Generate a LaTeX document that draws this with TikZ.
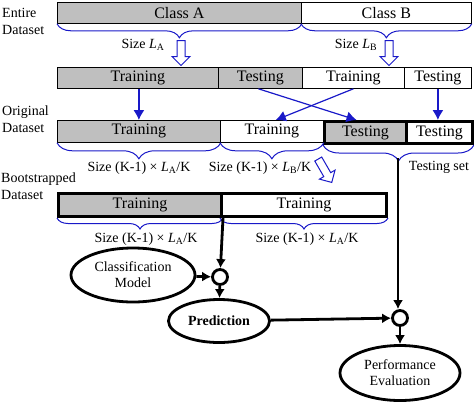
\documentclass[tikz,border=0pt]{standalone}
\usepackage{fontspec}
\setmainfont{Liberation Serif}
\usetikzlibrary{arrows.meta,decorations.pathreplacing,shapes.geometric,shapes.arrows}
\definecolor{braceblue}{RGB}{25,25,200}
\tikzset{
        box/.style={draw=black, line width=0.8pt, inner sep=0pt, anchor=north west, font=\fontsize{16}{18}\selectfont},
        grey/.style={fill=black!25},
        heavy/.style={line width=3pt},
        brace/.style={decorate, decoration={brace, mirror, amplitude=#1}, draw=braceblue, line width=1pt},
        brace/.default=13pt,
        hollow/.style={single arrow, draw=braceblue, line width=1pt, fill=white, inner sep=3.5pt,
          single arrow head extend=5pt, minimum height=25pt, rotate=-90},
        bluearrow/.style={draw=braceblue, line width=1.2pt, -{Latex[length=10pt,width=11pt]}},
        flow/.style={draw=black, line width=2.8pt, -{Latex[length=9pt,width=10pt]}},
        sizelabel/.style={font=\fontsize{14}{16}\selectfont},
        sidelabel/.style={align=left, anchor=west, inner sep=0pt, font=\fontsize{14}{17}\selectfont},
        model/.style={ellipse, draw=black, line width=2.8pt, inner sep=0pt, align=center, font=\fontsize{14}{16}\selectfont},
        junction/.style={circle, draw=black, line width=2.8pt, fill=white, minimum size=15pt, inner sep=0pt}
          }
\newcommand{\La}{\textit{L}\textsubscript{A}}
\newcommand{\Lb}{\textit{L}\textsubscript{B}}
\begin{document}
\begin{tikzpicture}[x=1pt,y=-1pt]
            \useasboundingbox (0,0) rectangle (474,402);
            % side labels
            \node[sidelabel] (entire) at (2,21) {Entire\\Dataset};
            \node[sidelabel] (original) at (2,119) {Original\\Dataset};
            \node[sidelabel] (boot) at (1,186) {Bootstrapped\\Dataset};
            % entire dataset
            \node[box, grey, minimum width=244pt, minimum height=21pt] (classA) at (57,2) {Class A};
            \node[box, minimum width=170pt, minimum height=21pt] (classB) at (301,2) {Class B};
            \draw[brace=14pt] (classA.south west) -- (classA.south east);
            \draw[brace=14pt] (classB.south west) -- (classB.south east);
            \node[hollow] (arrowA) at (181,51) {};
            \node[hollow] (arrowB) at (389,51) {};
            \node[sizelabel] (sizeA) at (143,45) {Size \La};
            \node[sizelabel] (sizeB) at (356,45) {Size \Lb};
            % split
            \node[box, grey, minimum width=161pt, minimum height=21pt] (trainA) at (57,67) {Training};
            \node[box, grey, minimum width=84pt, minimum height=21pt] (testA) at (218,67) {Testing};
            \node[box, minimum width=102pt, minimum height=21pt] (trainB) at (302,67) {Training};
            \node[box, minimum width=67pt, minimum height=21pt] (testB) at (404,67) {Testing};
            % original dataset
            \node[box, grey, minimum width=163pt, minimum height=22pt] (origTrainA) at (57,120) {Training};
            \node[box, minimum width=103pt, minimum height=22pt] (origTrainB) at (220,120) {Training};
            \node[box, grey, heavy, minimum width=82pt, minimum height=22pt] (origTestA) at (323,120) {Testing};
            \node[box, heavy, minimum width=66pt, minimum height=22pt] (origTestB) at (405,120) {Testing};
            \draw[bluearrow] (trainA.south -| origTrainA.south) -- (origTrainA.north);
            \draw[bluearrow] (testA.south) ++(-2,0) -- ([xshift=-9pt]origTestA.north);
            \draw[bluearrow] (trainB.south) ++(0,0) -- ([xshift=-48pt]origTrainB.north east);
            \draw[bluearrow] (testB.south) -- (testB.south |- origTestB.north);
            \draw[brace=16pt] (origTrainA.south west) -- (origTrainA.south east);
            \draw[brace=16pt] (origTrainB.south west) -- (origTrainB.south east);
            \draw[brace=16pt] (origTestA.south west) -- (origTestB.south east);
            \coordinate (tsTip) at (398,158);
            \node[sizelabel] (sizeOA) at (139,168) {Size (K-1) × \La/K};
            \node[sizelabel] (sizeOB) at (260,168) {Size (K-1) × \Lb/K};
            \node[sizelabel] (testset) at (439,167) {Testing set};
            \node[hollow, rotate=30, minimum height=27pt] (arrowC) at (324,169) {};
            % bootstrapped dataset
            \node[box, grey, heavy, minimum width=163pt, minimum height=23pt] (bootTrainA) at (57,192) {Training};
            \node[box, heavy, minimum width=165pt, minimum height=23pt] (bootTrainB) at (220,192) {Training};
            \draw[brace=11pt] (bootTrainA.south west) -- (bootTrainA.south east);
            \draw[brace=11pt] (bootTrainB.south west) -- (bootTrainB.south east);
            \node[sizelabel] (sizeBA) at (146,239) {Size (K-1) × \La/K};
            \node[sizelabel] (sizeBB) at (307,239) {Size (K-1) × \La/K};
            % evaluation
            \node[model, minimum width=124pt, minimum height=54pt] (classifier) at (133,275) {Classification\\Model};
            \node[junction] (joinA) at (220,277) {};
            \node[model, minimum width=101pt, minimum height=43pt, font=\fontsize{14}{16}\selectfont\bfseries] (prediction) at (219,321) {Prediction};
            \node[junction] (joinB) at (400,318) {};
            \node[model, minimum width=120pt, minimum height=55pt] (performance) at (400,373) {Performance\\Evaluation};
            \draw[flow] (bootTrainA.south east) -- (joinA);
            \draw[flow] (classifier) -- (joinA);
            \draw[flow] (joinA) -- (prediction);
            \draw[flow] (tsTip) -- (tsTip |- joinB.north);
            \draw[flow] (prediction) -- (joinB);
            \draw[flow] (joinB) -- (performance);
          \end{tikzpicture}
\end{document}
